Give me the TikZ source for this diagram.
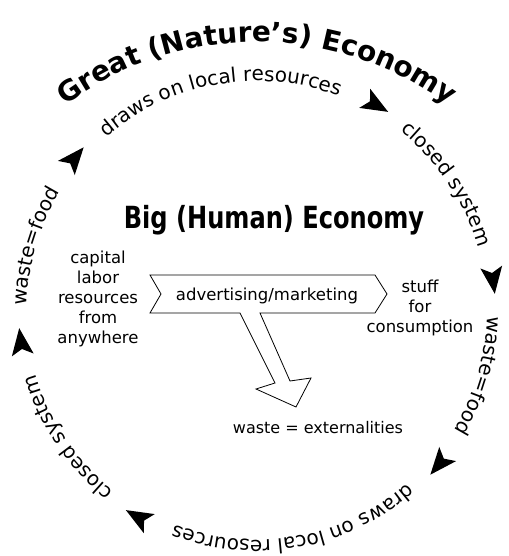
\documentclass[tikz,border=0pt]{standalone}
\usepackage{fontspec}
\setmainfont{DejaVu Sans}
\usetikzlibrary{decorations.text,calc}

% type sizes (1pt on the page = 1px in the drawing)
\newcommand{\titlesize}{\fontsize{28}{30}\bfseries\selectfont}
\newcommand{\ringsize}{\fontsize{20}{24}\selectfont}
\newcommand{\bigsize}{\fontsize{30.5}{34}\bfseries\selectfont}
\newcommand{\labelsize}{\fontsize{16.5}{20}\selectfont}

\begin{document}
\begin{tikzpicture}[x=1pt,y=1pt,
  ringtext/.style={decorate,
    decoration={text along path, text align=center, text={|\ringsize|#1}}},
  titletext/.style={decorate,
    decoration={text along path, text align=center, text={|\titlesize|#1}}},
  cyclearrow/.style={fill=black},
  label/.style={font=\labelsize, align=center, inner sep=0pt},
  banner/.style={draw=black, line width=0.8pt, line join=miter, fill=white}]

\useasboundingbox (0,0) rectangle (508,556);

% centres of the cycle ring and of the title arc
\coordinate (C) at (257,245);
\coordinate (T) at (257,192);

% title along its arc
\path[titletext={Great (Nature's) Economy}]
  ($(T)+(130:322)$) arc[start angle=130, end angle=50, radius=322];

% the cycle, running clockwise round the ring
\path[ringtext={draws on local resources}]
  ($(C)+(138:230)$) arc[start angle=138, end angle=62, radius=230];
\path[ringtext={closed system}]
  ($(C)+(58:230)$) arc[start angle=58, end angle=9.5, radius=230];
\path[ringtext={waste=food}]
  ($(C)+(5.5:230)$) arc[start angle=5.5, end angle=-38, radius=230];
\path[ringtext={draws on local resources}]
  ($(C)+(-42:229)$) arc[start angle=-42, end angle=-118, radius=229];
\path[ringtext={closed system}]
  ($(C)+(-122:230)$) arc[start angle=-122, end angle=-170.5, radius=230];
\path[ringtext={waste=food}]
  ($(C)+(185.5:230)$) arc[start angle=185.5, end angle=142, radius=230];

% arrowheads between the phrases, pointing clockwise
\foreach \a in {140,60,7.5,-40,-120,-172.5}
  \fill[cyclearrow, shift={(C)}, rotate=\a]
    (238,-14) -- (249,13) -- (238,7) -- (227,13) -- cycle;

% inner economy
\node[font=\bigsize, xscale=0.79, inner sep=0pt] (big) at (274,336) {Big (Human) Economy};

\node[label] (inputs) at (98,257.5) {capital\\labor\\resources\\from\\anywhere};
\node[label] (outputs) at (420,248) {stuff\\for\\consumption};

% banner with its downward branch
\draw[banner]
  (150,281) -- (161,262) -- (150,243) -- (240,243)
  -- (275,173) -- (256,167) -- (296,149) -- (311,178) -- (290,175)
  -- (260,243) -- (375,243) -- (387,262) -- (375,281) -- cycle;

\node[label] (adv) at (267,260) {advertising/marketing};
\node[label, font=\fontsize{16}{20}\selectfont] (waste) at (318,128) {waste = externalities};

\end{tikzpicture}
\end{document}
